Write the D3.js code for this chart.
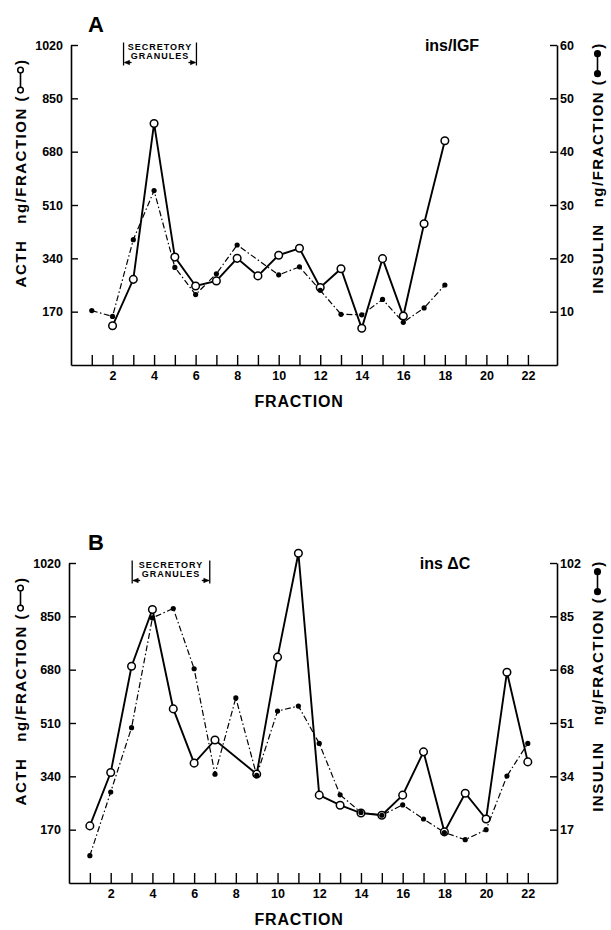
<!DOCTYPE html>
<html>
<head>
<meta charset="utf-8">
<script src="https://cdn.jsdelivr.net/npm/d3@7"></script>
<style>
  body { margin: 0; background: #fff; }
</style>
</head>
<body>
<div id="chart"></div>
<script>
// fractions 1..22
const fractions = d3.range(1, 23);
const evenLabels = [2, 4, 6, 8, 10, 12, 14, 16, 18, 20, 22];
const acthTicks = [170, 340, 510, 680, 850, 1020];

// panel A : ins/IGF  (ACTH ng/fraction, insulin ng/fraction)
const acthA = [null, 125, 273, 770, 344, 252, 268, 340, 284, 350, 372, 247, 307, 117, 339, 156, 450, 715, null, null, null, null];
const insA = [10.2, 9.1, 23.5, 32.7, 18.3, 13.2, 17.1, 22.5, null, 16.9, 18.4, 14.0, 9.5, 9.4, 12.3, 8.0, 10.7, 15.0, null, null, null, null];
const insTicksA = [10, 20, 30, 40, 50, 60];
const granulesA = [2.53, 6.04];

// panel B : ins deltaC
const acthB = [182, 352, 691, 872, 555, 382, 456, null, 347, 720, 1051, 280, 248, 223, 216, 280, 418, 163, 286, 204, 672, 386];
const insB = [8.7, 29.0, 49.5, 84.5, 87.5, 68.3, 34.7, 59.0, 34.3, 54.8, 56.4, 44.5, 28.1, 22.5, 21.6, 24.9, 20.4, 16.1, 13.8, 17.0, 34.1, 44.5];
const insTicksB = [17, 34, 51, 68, 85, 102];
const granulesB = [3.03, 6.75];

const W = 611, H = 930;
const FONT = "'Liberation Sans', Arial, Helvetica, sans-serif";

const svg = d3.select("#chart")
    .append("svg")
    .attr("width", W)
    .attr("height", H)
    .style("font-family", FONT);

const toPoints = (arr) => arr.map((v, i) => ({ f: fractions[i], v: v })).filter(d => d.v != null);

// rotated axis title: main words + little marker symbol in brackets
function axisTitle(g, xBase, yCenter, words, filled) {
    const t = g.append("g").attr("transform", `translate(${xBase},${yCenter}) rotate(-90)`);
    const style = (s) => s.attr("font-size", 15).attr("font-weight", "bold").attr("letter-spacing", 1.5).attr("fill", "#000");
    const t1 = style(t.append("text")).text(words[0]);
    const t2 = style(t.append("text")).text(words[1] + " (");
    const t3 = style(t.append("text")).text(")");
    const w1 = t1.node().getComputedTextLength();
    const w2 = t2.node().getComputedTextLength();
    const w3 = t3.node().getComputedTextLength();
    const gap = 16, symW = 30;
    const total = w1 + gap + w2 + symW + w3;
    let pos = -total / 2;
    t1.attr("x", pos); pos += w1 + gap;
    t2.attr("x", pos); pos += w2;
    // symbol
    const sy = -5.5;
    t.append("line").attr("x1", pos + 5).attr("x2", pos + symW - 5).attr("y1", sy).attr("y2", sy)
        .attr("stroke", "#000").attr("stroke-width", 1.6);
    [pos + 5, pos + symW - 5].forEach(cx => {
        t.append("circle").attr("cx", cx).attr("cy", sy).attr("r", 2.8)
            .attr("fill", filled ? "#000" : "#fff").attr("stroke", "#000").attr("stroke-width", 1.5);
    });
    pos += symW;
    t3.attr("x", pos);
}

function drawPanel(cfg) {
    const g = svg.append("g");
    const top = cfg.bottom - 320;

    const x = d3.scaleLinear().domain([0, 23.4]).range([cfg.left, 557]);
    const yL = d3.scaleLinear().domain([0, 1020]).range([cfg.bottom, top]);
    const yR = d3.scaleLinear().domain([0, cfg.insMax]).range([cfg.bottom, top]);

    // bottom axis, ticks pointing up
    const gx = g.append("g")
        .attr("transform", `translate(0,${cfg.bottom})`)
        .call(d3.axisBottom(x).tickValues(fractions).tickSizeInner(-10).tickSizeOuter(0).tickPadding(6)
            .tickFormat(d => evenLabels.includes(d) ? d : ""));

    // left axis
    const gl = g.append("g")
        .attr("transform", `translate(${cfg.left},0)`)
        .call(d3.axisLeft(yL).tickValues(acthTicks).tickSizeInner(-7).tickSizeOuter(0).tickPadding(8)
            .tickFormat(d3.format("d")));

    // right axis
    const gr = g.append("g")
        .attr("transform", `translate(557,0)`)
        .call(d3.axisRight(yR).tickValues(cfg.insTicks).tickSizeInner(-7).tickSizeOuter(0).tickPadding(3)
            .tickFormat(d3.format("d")));

    [gx, gl, gr].forEach(a => {
        a.selectAll("path.domain").attr("stroke", "#000").attr("stroke-width", 1.6);
        a.selectAll(".tick line").attr("stroke", "#000").attr("stroke-width", 1.4);
        a.selectAll(".tick text").attr("font-family", FONT).attr("font-size", 12.5)
            .attr("font-weight", "bold").attr("fill", "#000");
    });

    // x title
    g.append("text")
        .attr("x", 299).attr("y", cfg.bottom + 42)
        .attr("text-anchor", "middle")
        .attr("font-size", 16).attr("font-weight", "bold").attr("letter-spacing", 0.8)
        .text("FRACTION");

    axisTitle(g, 26, top + 128, ["ACTH", "ng/FRACTION"], false);
    axisTitle(g, 603, top + 123, ["INSULIN", "ng/FRACTION"], true);

    // panel letter and title
    g.append("text").attr("x", 88).attr("y", top - 13)
        .attr("font-size", 22).attr("font-weight", "bold").text(cfg.letter);
    g.append("text").attr("x", cfg.titleX).attr("y", top + 5.5)
        .attr("text-anchor", "middle")
        .attr("font-size", 16).attr("font-weight", "bold").text(cfg.title);

    // secretory granules bracket
    const bx0 = x(cfg.granules[0]), bx1 = x(cfg.granules[1]);
    const bt = top - 2.5, bb = top + 20.5;
    const br = g.append("g").attr("stroke", "#000").attr("stroke-width", 1.3);
    br.append("line").attr("x1", bx0).attr("x2", bx0).attr("y1", bt).attr("y2", bb);
    br.append("line").attr("x1", bx1).attr("x2", bx1).attr("y1", bt).attr("y2", bb);
    const ay = bb - 3;
    br.append("line").attr("x1", bx0 + 1).attr("x2", bx0 + 8).attr("y1", ay).attr("y2", ay);
    br.append("line").attr("x1", bx1 - 8).attr("x2", bx1 - 1).attr("y1", ay).attr("y2", ay);
    br.append("path").attr("d", `M${bx0 + 1},${ay} l5,-2.2 v4.4 z`).attr("fill", "#000").attr("stroke-width", 0.6);
    br.append("path").attr("d", `M${bx1 - 1},${ay} l-5,-2.2 v4.4 z`).attr("fill", "#000").attr("stroke-width", 0.6);
    const cx = (bx0 + bx1) / 2;
    g.append("text").attr("x", cx).attr("y", bt + 7.5).attr("text-anchor", "middle")
        .attr("font-size", 9).attr("font-weight", "bold").attr("letter-spacing", 1).text("SECRETORY");
    g.append("text").attr("x", cx).attr("y", bt + 16).attr("text-anchor", "middle")
        .attr("font-size", 9).attr("font-weight", "bold").attr("letter-spacing", 1).text("GRANULES");

    // data
    const acth = toPoints(cfg.acth);
    const ins = toPoints(cfg.ins);

    g.append("path").datum(ins)
        .attr("fill", "none").attr("stroke", "#000").attr("stroke-width", 1.2)
        .attr("stroke-dasharray", "6,2.5,1.5,2.5")
        .attr("d", d3.line().x(d => x(d.f)).y(d => yR(d.v)));

    g.append("path").datum(acth)
        .attr("fill", "none").attr("stroke", "#000").attr("stroke-width", 1.9)
        .attr("d", d3.line().x(d => x(d.f)).y(d => yL(d.v)));

    g.append("g").selectAll("circle").data(acth).join("circle")
        .attr("cx", d => x(d.f)).attr("cy", d => yL(d.v)).attr("r", 3.8)
        .attr("fill", "#fff").attr("stroke", "#000").attr("stroke-width", 1.5);

    g.append("g").selectAll("circle").data(ins).join("circle")
        .attr("cx", d => x(d.f)).attr("cy", d => yR(d.v)).attr("r", 2.6)
        .attr("fill", "#000");
}

drawPanel({ letter: "A", title: "ins/IGF", titleX: 452, left: 71, bottom: 365, insMax: 60,
    insTicks: insTicksA, acth: acthA, ins: insA, granules: granulesA });
drawPanel({ letter: "B", title: "ins \u0394C", titleX: 445, left: 69, bottom: 883, insMax: 102,
    insTicks: insTicksB, acth: acthB, ins: insB, granules: granulesB });
</script>
</body>
</html>
